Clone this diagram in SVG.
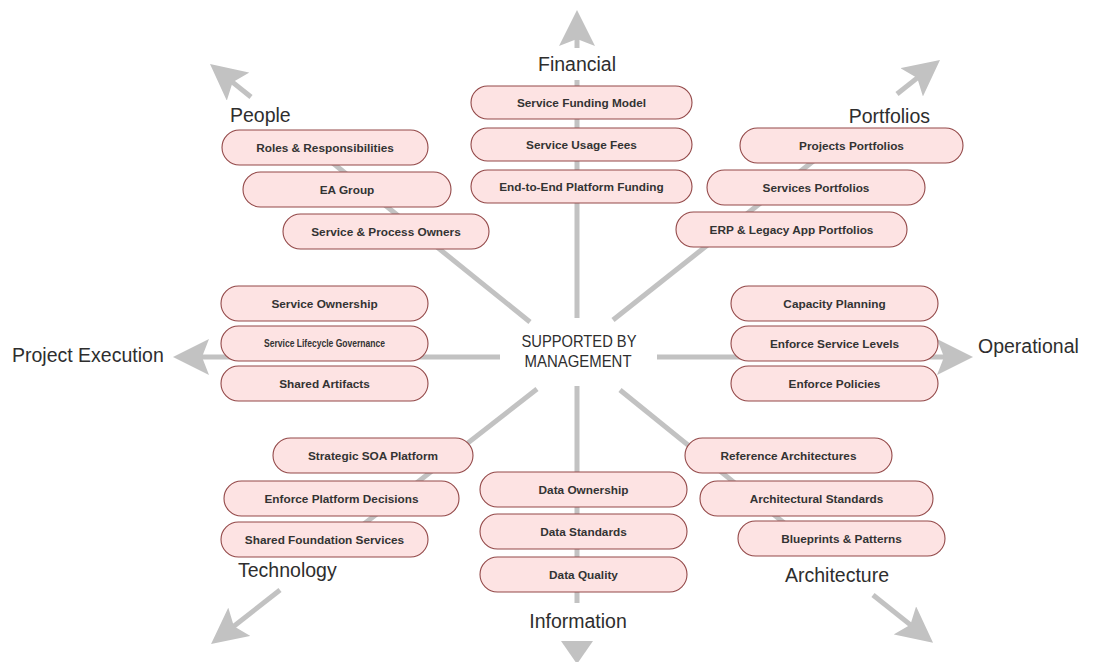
<svg xmlns="http://www.w3.org/2000/svg" xmlns:xlink="http://www.w3.org/1999/xlink" width="1097" height="662" viewBox="0 0 1097 662">
  <style>
    .spoke { stroke: #c2c2c2; stroke-width: 5; fill: none; }
    .pill { fill: #fde3e3; stroke: #934848; stroke-width: 1.1; }
    .ptxt { font-family: "Liberation Sans", Arial, sans-serif; font-size: 11.8px; font-weight: bold; fill: #333333; text-anchor: middle; }
    .lbl { font-family: "Liberation Sans", Arial, sans-serif; font-size: 19.5px; fill: #2e2e2e; }
    .hub { font-family: "Liberation Sans", Arial, sans-serif; font-size: 17px; fill: #2e2e2e; text-anchor: middle; }
  </style>
  <defs>
    <!-- notched arrowhead; tip at x=36, line end sits 20px behind the tip -->
    <marker id="head" viewBox="0 0 36 36" markerUnits="userSpaceOnUse" markerWidth="36" markerHeight="36" refX="16" refY="18" orient="auto">
      <path d="M36,18 L0,0 L7,18 L0,36 Z" fill="#c2c2c2"/>
    </marker>
  </defs>

  <rect width="1097" height="662" fill="#ffffff"/>

  <!-- spokes radiating from the hub -->
  <g id="connectors">
    <!-- north -->
    <line class="spoke" x1="577" y1="318" x2="577" y2="80"/>
    <line class="spoke" x1="577" y1="48" x2="577" y2="30" marker-end="url(#head)"/>
    <!-- north-west -->
    <line class="spoke" x1="530" y1="322" x2="298" y2="135"/>
    <line class="spoke" x1="251" y1="97" x2="225.6" y2="76.6" marker-end="url(#head)"/>
    <!-- north-east -->
    <line class="spoke" x1="613" y1="320" x2="850" y2="132"/>
    <line class="spoke" x1="897" y1="94" x2="924.3" y2="72.4" marker-end="url(#head)"/>
    <!-- west -->
    <line class="spoke" x1="500" y1="357" x2="193" y2="357" marker-end="url(#head)"/>
    <!-- east -->
    <line class="spoke" x1="657" y1="357" x2="953" y2="357" marker-end="url(#head)"/>
    <!-- south-west -->
    <line class="spoke" x1="537" y1="389" x2="328" y2="552"/>
    <line class="spoke" x1="280" y1="590" x2="226.8" y2="631.7" marker-end="url(#head)"/>
    <!-- south-east -->
    <line class="spoke" x1="620" y1="390" x2="820" y2="552"/>
    <line class="spoke" x1="873" y1="595" x2="917.4" y2="630.4" marker-end="url(#head)"/>
    <!-- south -->
    <line class="spoke" x1="577" y1="386" x2="577" y2="603"/>
    <path d="M561,641 L593,641 L577,664 Z" fill="#c2c2c2"/>
  </g>

  <g id="hub">
    <text class="hub" x="579" y="347" textLength="115" lengthAdjust="spacingAndGlyphs">SUPPORTED BY</text>
    <text class="hub" x="578" y="367" textLength="107" lengthAdjust="spacingAndGlyphs">MANAGEMENT</text>
  </g>

  <g id="financial">
    <text class="lbl" x="577" y="71" text-anchor="middle">Financial</text>
    <rect class="pill" x="471" y="86" width="221" height="33" rx="16.5"/>
    <text class="ptxt" x="581.5" y="106.5">Service Funding Model</text>
    <rect class="pill" x="471" y="128" width="221" height="33" rx="16.5"/>
    <text class="ptxt" x="581.5" y="148.5">Service Usage Fees</text>
    <rect class="pill" x="471" y="170" width="221" height="33" rx="16.5"/>
    <text class="ptxt" x="581.5" y="190.5">End-to-End Platform Funding</text>
  </g>

  <g id="people">
    <text class="lbl" x="230" y="122">People</text>
    <rect class="pill" x="222" y="130" width="206" height="35" rx="17.5"/>
    <text class="ptxt" x="325" y="151.5">Roles &amp; Responsibilities</text>
    <rect class="pill" x="243" y="172" width="208" height="35" rx="17.5"/>
    <text class="ptxt" x="347" y="193.5">EA Group</text>
    <rect class="pill" x="283" y="214" width="206" height="35" rx="17.5"/>
    <text class="ptxt" x="386" y="235.5">Service &amp; Process Owners</text>
  </g>

  <g id="portfolios">
    <text class="lbl" x="930" y="123" text-anchor="end">Portfolios</text>
    <rect class="pill" x="740" y="128" width="223" height="35" rx="17.5"/>
    <text class="ptxt" x="851.5" y="149.5">Projects Portfolios</text>
    <rect class="pill" x="707" y="170" width="218" height="35" rx="17.5"/>
    <text class="ptxt" x="816" y="191.5">Services Portfolios</text>
    <rect class="pill" x="676" y="212" width="231" height="35" rx="17.5"/>
    <text class="ptxt" x="791.5" y="233.5">ERP &amp; Legacy App Portfolios</text>
  </g>

  <g id="project-execution">
    <text class="lbl" x="12" y="362">Project Execution</text>
    <rect class="pill" x="221" y="286" width="207" height="35" rx="17.5"/>
    <text class="ptxt" x="324.5" y="307.5">Service Ownership</text>
    <rect class="pill" x="221" y="326" width="207" height="35" rx="17.5"/>
    <text class="ptxt" x="324.5" y="347" style="font-size:11px" textLength="121" lengthAdjust="spacingAndGlyphs">Service Lifecycle Governance</text>
    <rect class="pill" x="221" y="366" width="207" height="35" rx="17.5"/>
    <text class="ptxt" x="324.5" y="387.5">Shared Artifacts</text>
  </g>

  <g id="operational">
    <text class="lbl" x="978" y="353">Operational</text>
    <rect class="pill" x="731" y="286" width="207" height="35" rx="17.5"/>
    <text class="ptxt" x="834.5" y="307.5">Capacity Planning</text>
    <rect class="pill" x="731" y="326" width="207" height="35" rx="17.5"/>
    <text class="ptxt" x="834.5" y="347.5">Enforce Service Levels</text>
    <rect class="pill" x="731" y="366" width="207" height="35" rx="17.5"/>
    <text class="ptxt" x="834.5" y="387.5">Enforce Policies</text>
  </g>

  <g id="technology">
    <text class="lbl" x="238" y="577">Technology</text>
    <rect class="pill" x="273" y="438" width="200" height="35" rx="17.5"/>
    <text class="ptxt" x="373" y="459.5">Strategic SOA Platform</text>
    <rect class="pill" x="224" y="481" width="235" height="35" rx="17.5"/>
    <text class="ptxt" x="341.5" y="502.5">Enforce Platform Decisions</text>
    <rect class="pill" x="221" y="522" width="207" height="35" rx="17.5"/>
    <text class="ptxt" x="324.5" y="543.5">Shared Foundation Services</text>
  </g>

  <g id="information">
    <text class="lbl" x="578" y="628" text-anchor="middle">Information</text>
    <rect class="pill" x="480" y="472" width="207" height="35" rx="17.5"/>
    <text class="ptxt" x="583.5" y="493.5">Data Ownership</text>
    <rect class="pill" x="480" y="514" width="207" height="35" rx="17.5"/>
    <text class="ptxt" x="583.5" y="535.5">Data Standards</text>
    <rect class="pill" x="480" y="557" width="207" height="35" rx="17.5"/>
    <text class="ptxt" x="583.5" y="578.5">Data Quality</text>
  </g>

  <g id="architecture">
    <text class="lbl" x="785" y="582">Architecture</text>
    <rect class="pill" x="685" y="438" width="207" height="35" rx="17.5"/>
    <text class="ptxt" x="788.5" y="459.5">Reference Architectures</text>
    <rect class="pill" x="700" y="481" width="233" height="35" rx="17.5"/>
    <text class="ptxt" x="816.5" y="502.5">Architectural Standards</text>
    <rect class="pill" x="738" y="521" width="207" height="35" rx="17.5"/>
    <text class="ptxt" x="841.5" y="542.5">Blueprints &amp; Patterns</text>
  </g>
</svg>
